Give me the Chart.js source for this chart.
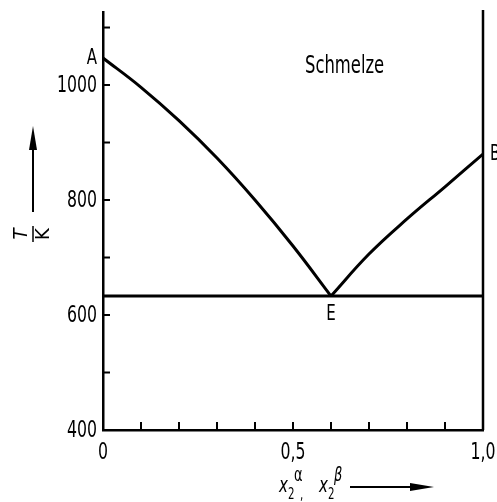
<!DOCTYPE html>
<html>
<head>
<meta charset="utf-8">
<script src="https://cdn.jsdelivr.net/npm/chart.js@4.4.0/dist/chart.umd.min.js"></script>
<style>
  html, body { margin: 0; padding: 0; background: #fff; }
  canvas { display: block; }
</style>
</head>
<body>
<canvas id="chart" width="497" height="502"></canvas>
<script>
// liquidus A -> E
const leftX = [0, 0.1, 0.2, 0.3, 0.4, 0.5, 0.6];
const leftT = [1047, 996, 938, 873, 800, 720, 633];
// liquidus E -> B
const rightX = [0.6, 0.7, 0.8, 0.9, 1.0];
const rightT = [633, 706, 767, 823, 880];
// eutectic line
const eutX = [0, 1];
const eutT = [633, 633];

const yTicks = [400, 500, 600, 700, 800, 900, 1000, 1100];
const yLabels = [400, 600, 800, 1000];
const xLabels = [0, 0.5, 1];
const xMinor = [0.1, 0.2, 0.3, 0.4, 0.5, 0.6, 0.7, 0.8, 0.9];

const FONT = '"DejaVu Sans Condensed", "DejaVu Sans", sans-serif';
const SQUEEZE = 0.76;

function pts(xs, ys) {
    return xs.map((x, i) => ({ x: x, y: ys[i] }));
}

// narrow lettering like the DIN face of the original
function narrowText(ctx, text, x, y, font, align) {
    ctx.save();
    ctx.font = font;
    ctx.textAlign = align;
    ctx.translate(x, y);
    ctx.scale(SQUEEZE, 1);
    ctx.fillText(text, 0, 0);
    ctx.restore();
}

const lineStyle = {
    showLine: true,
    borderColor: '#000',
    borderWidth: 3,
    pointRadius: 0,
    fill: false,
    tension: 0.4
};

const extras = {
    id: 'extras',
    afterDraw(chart) {
        const ctx = chart.ctx;
        const xs = chart.scales.x;
        const ys = chart.scales.y;
        const area = chart.chartArea;
        ctx.save();
        ctx.strokeStyle = '#000';
        ctx.fillStyle = '#000';

        // inward tick marks
        ctx.lineWidth = 2;
        yTicks.forEach(v => {
            const y = ys.getPixelForValue(v);
            ctx.beginPath();
            ctx.moveTo(area.left, y);
            ctx.lineTo(area.left + 7, y);
            ctx.stroke();
        });
        xMinor.forEach(v => {
            const x = xs.getPixelForValue(v);
            ctx.beginPath();
            ctx.moveTo(x, area.bottom);
            ctx.lineTo(x, area.bottom - 8);
            ctx.stroke();
        });

        // right boundary at x = 1
        ctx.lineWidth = 2.5;
        const xr = xs.getPixelForValue(1);
        ctx.beginPath();
        ctx.moveTo(xr, area.top - 2);
        ctx.lineTo(xr, area.bottom);
        ctx.stroke();

        // tick labels
        ctx.textBaseline = 'middle';
        const tickFont = '23px ' + FONT;
        yLabels.forEach(v => {
            narrowText(ctx, String(v), area.left - 6, ys.getPixelForValue(v) + 1, tickFont, 'right');
        });
        xLabels.forEach(v => {
            const s = v === 0 ? '0' : v.toFixed(1).replace('.', ',');
            narrowText(ctx, s, xs.getPixelForValue(v), area.bottom + 23, tickFont, 'center');
        });

        // point labels
        const lblFont = '22px ' + FONT;
        narrowText(ctx, 'A', xs.getPixelForValue(0) - 6, ys.getPixelForValue(1047), lblFont, 'right');
        narrowText(ctx, 'B', xr + 7, ys.getPixelForValue(880), lblFont, 'left');
        narrowText(ctx, 'E', xs.getPixelForValue(0.6), ys.getPixelForValue(633) + 18, lblFont, 'center');
        narrowText(ctx, 'Schmelze', 305, 67, '24px ' + FONT, 'left');

        // y axis title: T/K with arrow
        ctx.save();
        ctx.translate(33, 234);
        ctx.rotate(-Math.PI / 2);
        ctx.textAlign = 'center';
        ctx.font = 'italic 20px ' + FONT;
        ctx.fillText('T', 0, -11);
        ctx.font = '20px ' + FONT;
        ctx.fillText('K', 0, 11);
        ctx.lineWidth = 1.5;
        ctx.beginPath();
        ctx.moveTo(-8, 0);
        ctx.lineTo(8, 0);
        ctx.stroke();
        ctx.restore();

        ctx.lineWidth = 2;
        ctx.beginPath();
        ctx.moveTo(33, 212);
        ctx.lineTo(33, 140);
        ctx.stroke();
        ctx.beginPath();
        ctx.moveTo(33, 126);
        ctx.lineTo(29, 150);
        ctx.lineTo(37, 150);
        ctx.closePath();
        ctx.fill();

        // x axis title: x2^alpha, x2^beta with arrow
        ctx.textBaseline = 'alphabetic';
        narrowText(ctx, 'x', 279, 492, 'italic 22px ' + FONT, 'left');
        narrowText(ctx, 'x', 319, 492, 'italic 22px ' + FONT, 'left');
        narrowText(ctx, '2', 288, 499, '15px ' + FONT, 'left');
        narrowText(ctx, '2', 328, 499, '15px ' + FONT, 'left');
        narrowText(ctx, ',', 300, 499, '15px ' + FONT, 'left');
        narrowText(ctx, '\u03b1', 294, 481, '19px ' + FONT, 'left');
        narrowText(ctx, '\u03b2', 334, 481, 'italic 19px ' + FONT, 'left');

        ctx.lineWidth = 1.8;
        ctx.beginPath();
        ctx.moveTo(350, 487);
        ctx.lineTo(420, 487);
        ctx.stroke();
        ctx.beginPath();
        ctx.moveTo(434, 487);
        ctx.lineTo(410, 483);
        ctx.lineTo(410, 491);
        ctx.closePath();
        ctx.fill();

        ctx.restore();
    }
};

const ctx = document.getElementById('chart').getContext('2d');
new Chart(ctx, {
    type: 'scatter',
    data: {
        datasets: [
            Object.assign({ data: pts(leftX, leftT) }, lineStyle),
            Object.assign({ data: pts(rightX, rightT) }, lineStyle),
            Object.assign({ data: pts(eutX, eutT) }, lineStyle)
        ]
    },
    options: {
        responsive: false,
        animation: false,
        layout: { padding: { left: 0, right: 14, top: 12, bottom: 0 } },
        plugins: {
            legend: { display: false },
            tooltip: { enabled: false }
        },
        scales: {
            x: {
                type: 'linear',
                min: 0,
                max: 1,
                afterBuildTicks: s => { s.ticks = xLabels.map(v => ({ value: v })); },
                afterFit: s => { s.height = 72; s.paddingLeft = 0; s.paddingRight = 0; },
                grid: { drawOnChartArea: false, drawTicks: false },
                border: { display: true, color: '#000', width: 2.5 },
                ticks: { display: false }
            },
            y: {
                type: 'linear',
                min: 400,
                max: 1127,
                afterBuildTicks: s => { s.ticks = yTicks.map(v => ({ value: v })); },
                afterFit: s => { s.width = 103; s.paddingTop = 0; s.paddingBottom = 0; },
                grid: { drawOnChartArea: false, drawTicks: false },
                border: { display: true, color: '#000', width: 2.5 },
                ticks: { display: false }
            }
        }
    },
    plugins: [extras]
});
</script>
</body>
</html>
